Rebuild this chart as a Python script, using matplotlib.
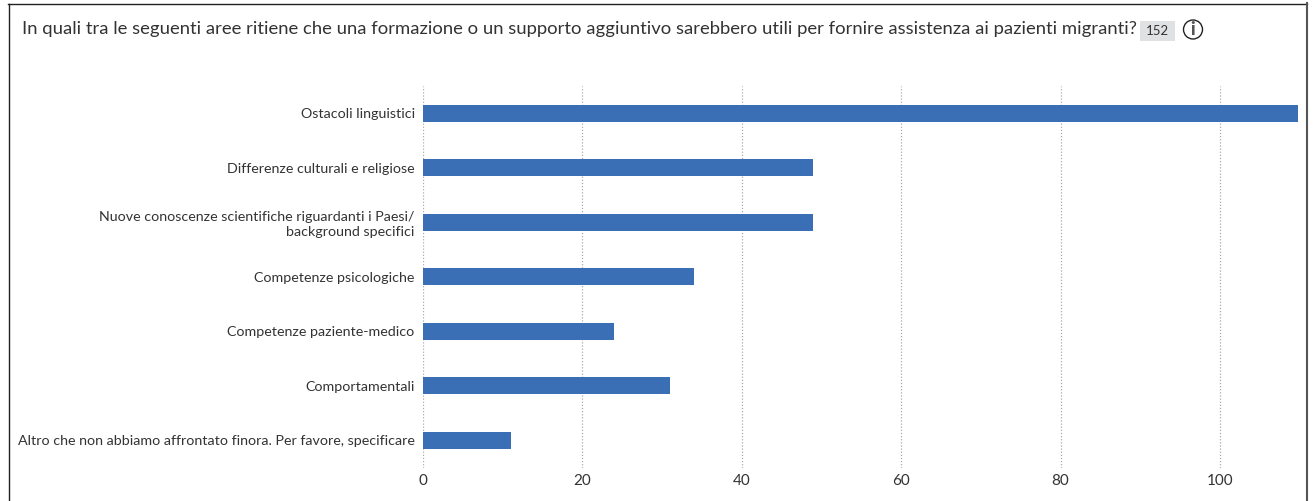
import matplotlib
matplotlib.use("Agg")
import matplotlib.pyplot as plt
from matplotlib.patches import Rectangle, Circle

categories = [
    "Ostacoli linguistici",
    "Differenze culturali e religiose",
    "Nuove conoscenze scientifiche riguardanti i Paesi/\nbackground specifici",
    "Competenze psicologiche",
    "Competenze paziente-medico",
    "Comportamentali",
    "Altro che non abbiamo affrontato finora. Per favore, specificare",
]
values = [110, 49, 49, 34, 24, 31, 11]
ticks = [0, 20, 40, 60, 80, 100]
title = "In quali tra le seguenti aree ritiene che una formazione o un supporto aggiuntivo sarebbero utili per fornire assistenza ai pazienti migranti?"
count_label = "152"

W, H = 1314, 501
plt.rcParams["font.family"] = ["Lato", "DejaVu Sans"]
text_color = "#333333"

fig = plt.figure(figsize=(W / 100, H / 100), dpi=100, facecolor="white")

# overlay in pixel coords for the frame, title and badge
bg = fig.add_axes([0, 0, 1, 1])
bg.set_xlim(0, W)
bg.set_ylim(H, 0)
bg.axis("off")
bg.plot([8.5, 8.5], [H, 3.5], color="#222222", lw=1.0)
bg.plot([8, 1307], [3.5, 3.5], color="#222222", lw=1.0)
bg.plot([1307, 1307], [3, H], color="#555555", lw=1.5)
bg.text(22, 29, title, fontsize=13.295, color=text_color, va="center", ha="left")
bg.add_patch(Rectangle((1140, 21), 35, 20, color="#e0e1e3", lw=0))
bg.text(1157.5, 31, count_label, fontsize=9.5, color=text_color, va="center", ha="center")
bg.add_patch(Circle((1193, 29.5), 9.5, fill=False, ec="#222222", lw=1))
bg.text(1193, 29.5, "i", fontsize=13, fontweight="black", color="#555555", va="center", ha="center")

# x: 0 at 423px, clipped at 1298px; y: 86px to 467.5px
ax = fig.add_axes([423 / W, 1 - 467.5 / H, 875 / W, 381.5 / H])
ax.patch.set_alpha(0)
y = list(range(len(categories)))
ax.barh(y, values, height=0.306, color="#3a6eb5", zorder=3)
ax.set_xlim(0, 109.8)
ax.set_ylim(len(categories) - 0.5, -0.5)
ax.set_xticks(ticks)
ax.set_yticks(y)
ax.set_yticklabels(categories, linespacing=1.25)
ax.tick_params(axis="both", length=0, labelcolor=text_color)
ax.tick_params(axis="y", pad=6, labelsize=10.28)
ax.tick_params(axis="x", pad=5, labelsize=11)
ax.xaxis.grid(True, color="#aaaaaa", ls=(0, (1, 1.5)), lw=0.9, zorder=1)
ax.yaxis.grid(False)
for s in ax.spines.values():
    s.set_visible(False)

fig.savefig("out.png", dpi=100)
